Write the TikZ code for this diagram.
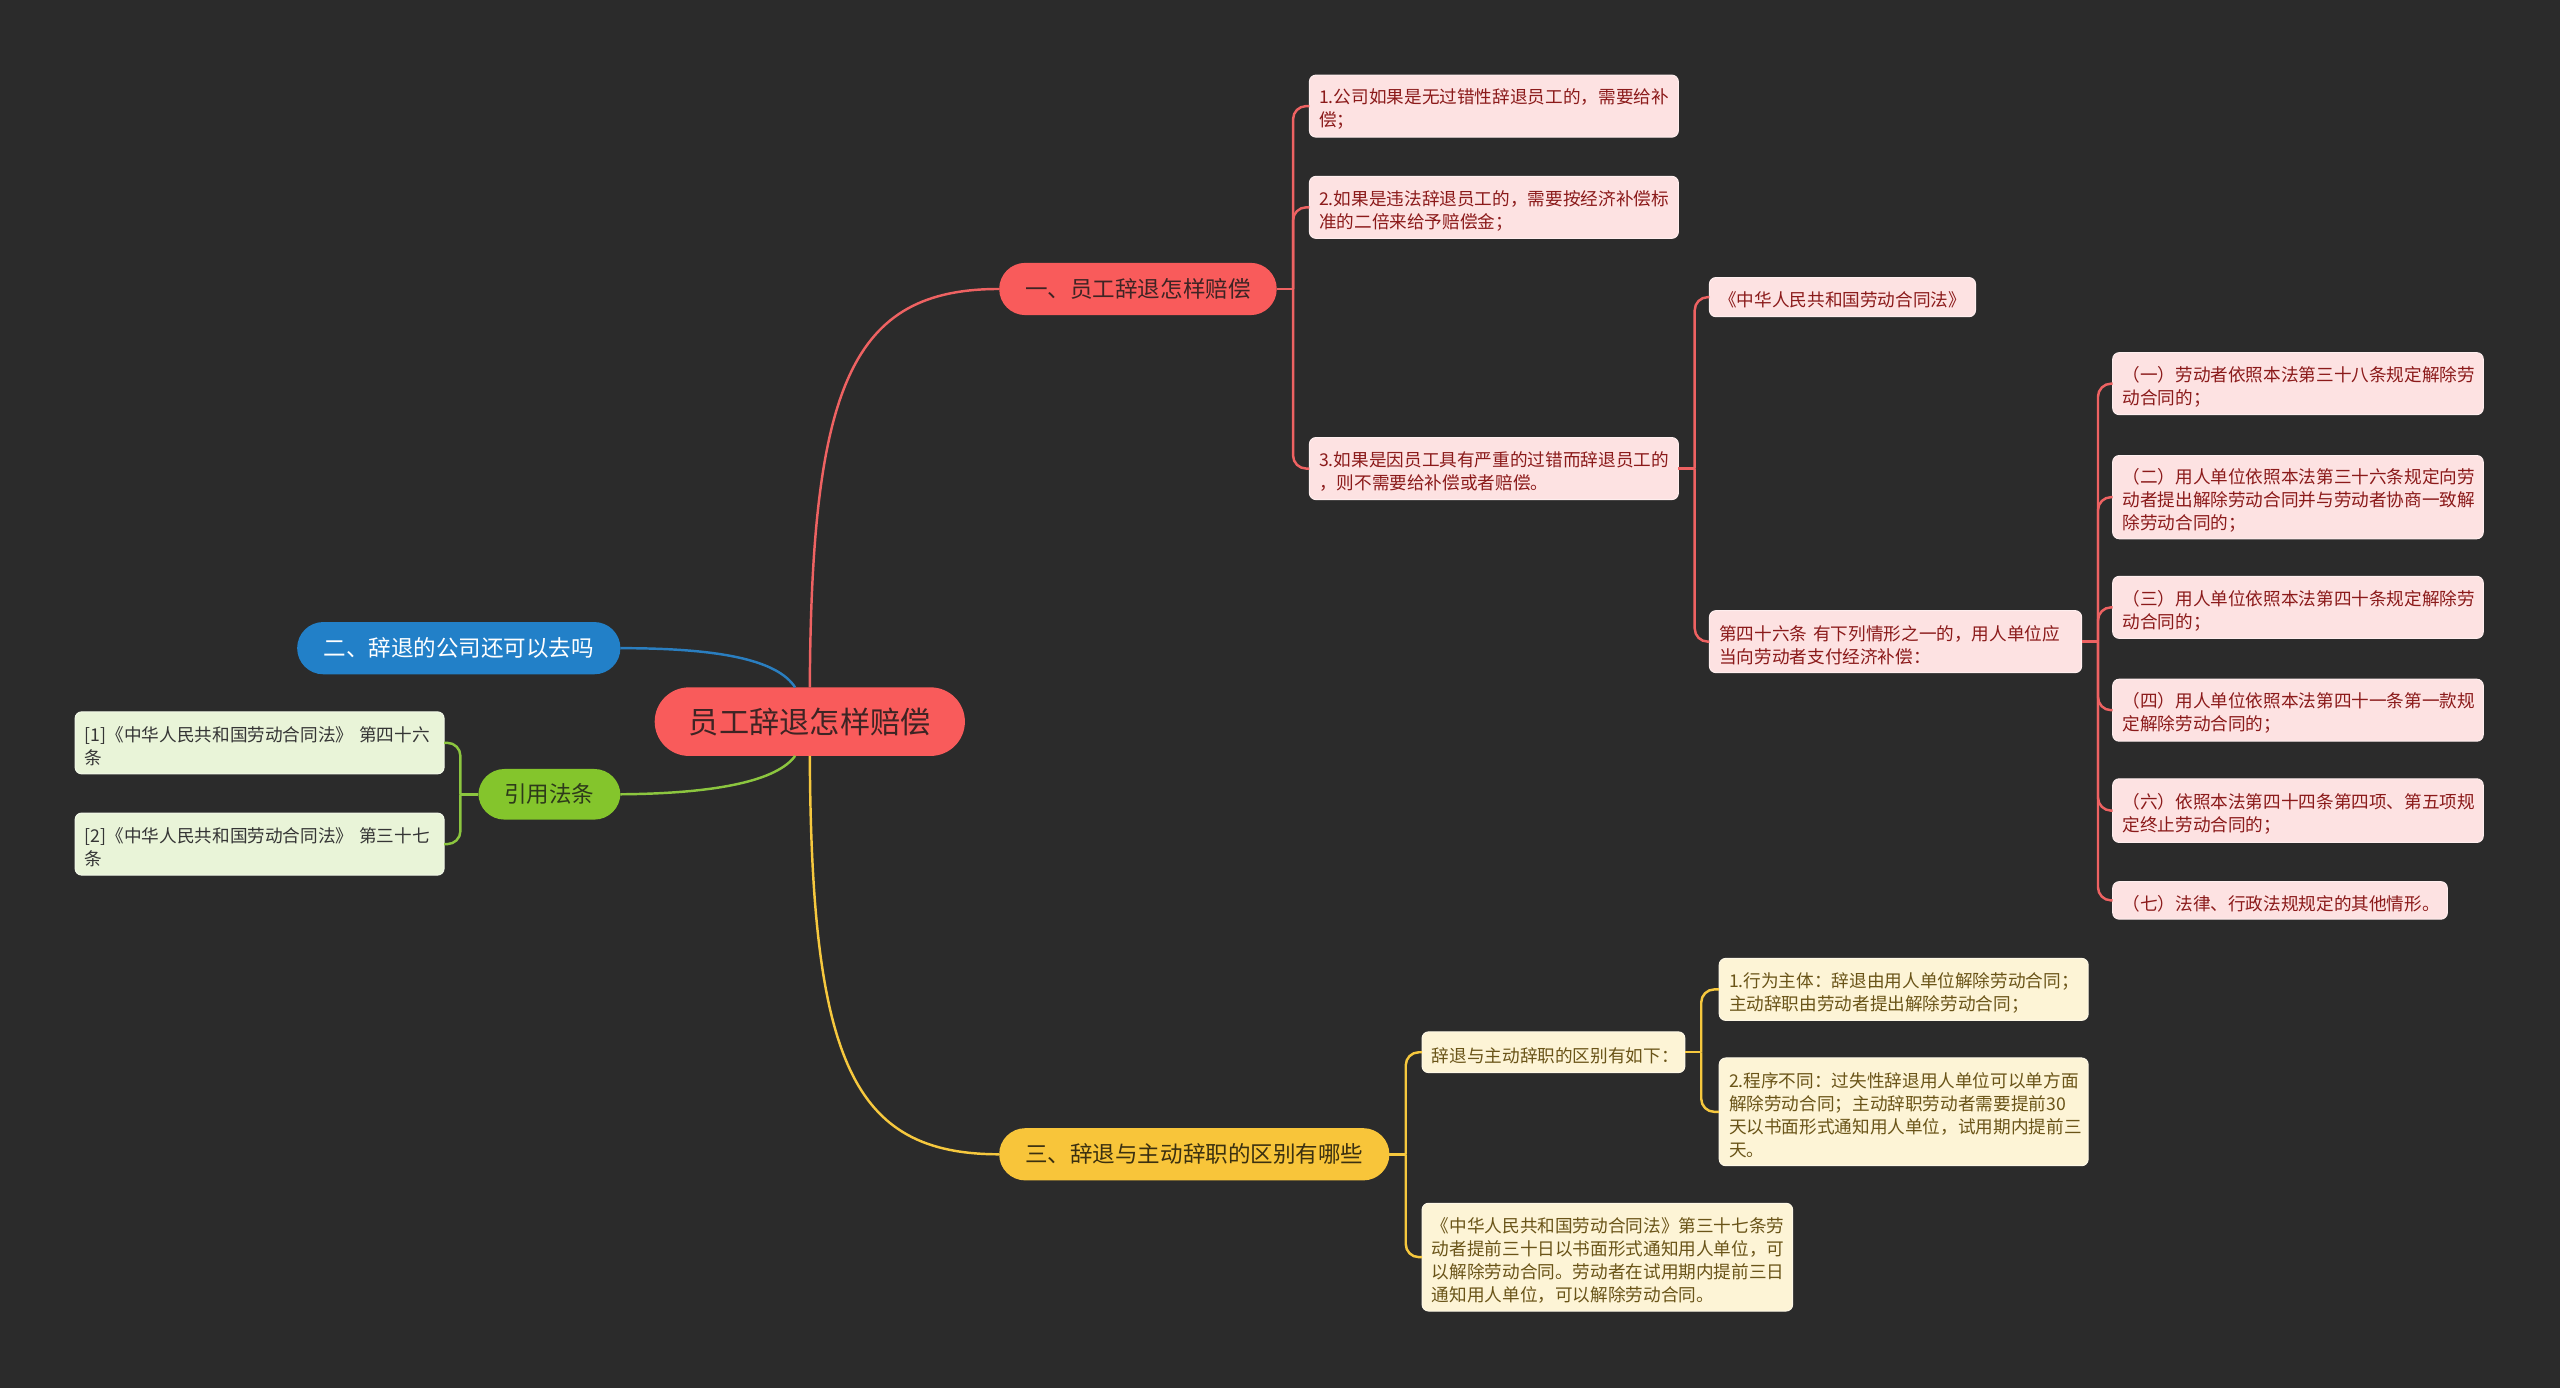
\documentclass[tikz,border=0pt]{standalone}
\usepackage{fontspec}
\setmainfont{Noto Sans CJK SC}
\usetikzlibrary{calc}
\definecolor{bgc}{HTML}{2B2B2B}
\definecolor{redfill}{HTML}{F95B5B}
\definecolor{redline}{HTML}{EE6262}
\definecolor{redtext}{HTML}{3E2424}
\definecolor{pinkfill}{HTML}{FDE2E2}
\definecolor{pinktext}{HTML}{8B1A1A}
\definecolor{bluefill}{HTML}{2280C8}
\definecolor{blueline}{HTML}{2A7EC0}
\definecolor{greenfill}{HTML}{84C52C}
\definecolor{greenline}{HTML}{8CC63F}
\definecolor{greentext}{HTML}{2D3A1A}
\definecolor{gleaffill}{HTML}{E9F4D8}
\definecolor{gleaftext}{HTML}{353535}
\definecolor{yelfill}{HTML}{F8C53A}
\definecolor{yelline}{HTML}{F6C83E}
\definecolor{yeltext}{HTML}{3B3010}
\definecolor{creamfill}{HTML}{FDF4D6}
\definecolor{creamtext}{HTML}{6A5418}
\tikzset{
  leaf/.style={rounded corners=4pt, inner xsep=6pt, inner ysep=0pt, outer sep=0pt,
    align=left, anchor=west, font=\fontsize{10.8}{14.1}\selectfont,
    execute at begin node={\rule{0pt}{13pt}}},
  pinkleaf/.style={leaf, fill=pinkfill, draw=pinkfill!60!white, line width=0.6pt, text=pinktext},
  creamleaf/.style={leaf, fill=creamfill, draw=creamfill!60!white, line width=0.6pt, text=creamtext},
  greenleaf/.style={leaf, fill=gleaffill, draw=gleaffill!60!white, line width=0.6pt, text=gleaftext},
  pill/.style={rounded corners=16pt, inner sep=0pt, outer sep=0pt, align=center,
    font=\fontsize{13.8}{16}\selectfont, minimum height=32pt},
  conn/.style={line width=1.5pt},
  spine/.style={line width=1.5pt, rounded corners=8pt},
}
\begin{document}
\begin{tikzpicture}[x=1pt,y=-1pt]
\fill[bgc] (0,0) rectangle (1568,850);
\useasboundingbox (0,0) rectangle (1568,850);

% root and main branches
\node[pill, rounded corners=21pt, fill=redfill, text=redtext, minimum width=190pt, minimum height=42pt,
  font=\fontsize{18.5}{20}\selectfont] (root) at (496,442) {员工辞退怎样赔偿};
\node[pill, fill=redfill, text=redtext, minimum width=170pt] (b1) at (697,177) {一、员工辞退怎样赔偿};
\node[pill, fill=bluefill, text=white, minimum width=198pt] (b2) at (281,397) {二、辞退的公司还可以去吗};
\node[pill, fill=greenfill, text=greentext, minimum width=87pt, minimum height=31pt] (bg) at (336.5,486.5) {引用法条};
\node[pill, fill=yelfill, text=yeltext, minimum width=239pt] (b3) at (731.5,707) {三、辞退与主动辞职的区别有哪些};

% branch 1 leaves
\node[pinkleaf, text width=214pt, minimum height=38pt] (l1) at (802,65) {1.公司如果是无过错性辞退员工的，需要给补\\偿；};
\node[pinkleaf, text width=214pt, minimum height=38pt] (l2) at (802,127) {2.如果是违法辞退员工的，需要按经济补偿标\\准的二倍来给予赔偿金；};
\node[pinkleaf, text width=214pt, minimum height=38pt] (l3) at (802,287) {3.如果是因员工具有严重的过错而辞退员工的\\，则不需要给补偿或者赔偿。};
\node[pinkleaf, text width=151pt, minimum height=24pt] (l3a) at (1047,182) {《中华人民共和国劳动合同法》};
\node[pinkleaf, text width=216pt, minimum height=38pt] (l3b) at (1047,393) {第四十六条~有下列情形之一的，用人单位应\\当向劳动者支付经济补偿：};
\node[pinkleaf, text width=215pt, minimum height=38pt] (c1) at (1294,235) {（一）劳动者依照本法第三十八条规定解除劳\\动合同的；};
\node[pinkleaf, text width=215pt, minimum height=51pt] (c2) at (1294,304.5) {（二）用人单位依照本法第三十六条规定向劳\\动者提出解除劳动合同并与劳动者协商一致解\\除劳动合同的；};
\node[pinkleaf, text width=215pt, minimum height=38pt] (c3) at (1294,372) {（三）用人单位依照本法第四十条规定解除劳\\动合同的；};
\node[pinkleaf, text width=215pt, minimum height=38pt] (c4) at (1294,435) {（四）用人单位依照本法第四十一条第一款规\\定解除劳动合同的；};
\node[pinkleaf, text width=215pt, minimum height=39pt] (c6) at (1294,496.5) {（六）依照本法第四十四条第四项、第五项规\\定终止劳动合同的；};
\node[pinkleaf, text width=193pt, minimum height=23pt] (c7) at (1294,551.5) {（七）法律、行政法规规定的其他情形。};

% branch 3 leaves
\node[creamleaf, text width=149pt, minimum height=25pt] (y1) at (871,644.5) {辞退与主动辞职的区别有如下：};
\node[creamleaf, text width=214pt, minimum height=38pt] (y1a) at (1053,606) {1.行为主体：辞退由用人单位解除劳动合同；\\主动辞职由劳动者提出解除劳动合同；};
\node[creamleaf, text width=214pt, minimum height=66pt] (y1b) at (1053,681) {2.程序不同：过失性辞退用人单位可以单方面\\解除劳动合同；主动辞职劳动者需要提前30\\天以书面形式通知用人单位，试用期内提前三\\天。};
\node[creamleaf, text width=215pt, minimum height=66pt] (y2) at (871,770) {《中华人民共和国劳动合同法》第三十七条劳\\动者提前三十日以书面形式通知用人单位，可\\以解除劳动合同。劳动者在试用期内提前三日\\通知用人单位，可以解除劳动合同。};

% green leaves
\node[greenleaf, text width=214pt, minimum height=38pt] (g1) at (46,455) {[1]《中华人民共和国劳动合同法》~第四十六\\条};
\node[greenleaf, text width=214pt, minimum height=38pt] (g2) at (46,517) {[2]《中华人民共和国劳动合同法》~第三十七\\条};

% root connectors
\draw[conn, redline] (root.north) .. controls (497,235) and (522,177) .. (b1.west);
\draw[conn, yelline] (root.south) .. controls (497,650) and (522,707) .. (b3.west);
\draw[conn, blueline] (b2.east) .. controls (440,397) and (476,404) .. ($(root.north)+(-9,0)$);
\draw[conn, greenline] (bg.east) .. controls (440,486) and (476,478) .. ($(root.south)+(-9,0)$);

% branch 1 spine
\coordinate (s1) at ($(b1.east)+(10,0)$);
\draw[conn, redline] (b1.east) -- (s1);
\foreach \c in {l1,l2,l3} \draw[spine, redline] (s1) |- (\c.west);

\coordinate (s3) at ($(l3.east)+(10,0)$);
\draw[conn, redline] (l3.east) -- (s3);
\foreach \c in {l3a,l3b} \draw[spine, redline] (s3) |- (\c.west);

\coordinate (s3b) at ($(l3b.east)+(10,0)$);
\draw[conn, redline] (l3b.east) -- (s3b);
\foreach \c in {c1,c2,c3,c4,c6,c7} \draw[spine, redline] (s3b) |- (\c.west);

% branch 3 spine
\coordinate (sy) at ($(b3.east)+(10,0)$);
\draw[conn, yelline] (b3.east) -- (sy);
\foreach \c in {y1,y2} \draw[spine, yelline] (sy) |- (\c.west);

\coordinate (sy1) at ($(y1.east)+(10,0)$);
\draw[conn, yelline] (y1.east) -- (sy1);
\foreach \c in {y1a,y1b} \draw[spine, yelline] (sy1) |- (\c.west);

% green spine
\coordinate (sg) at ($(bg.west)+(-11,0)$);
\draw[conn, greenline] (bg.west) -- (sg);
\foreach \c in {g1,g2} \draw[spine, greenline] (sg) |- (\c.east);
\end{tikzpicture}
\end{document}
